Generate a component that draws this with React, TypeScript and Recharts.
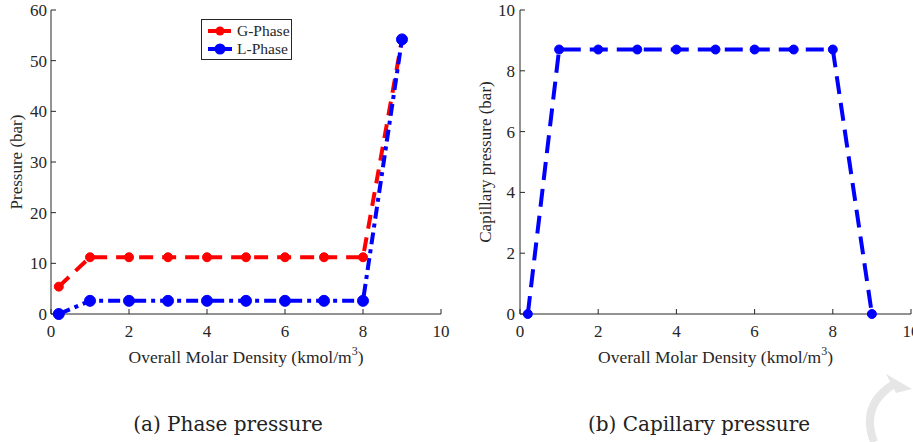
import React from 'react';
import { LineChart, Line, XAxis, YAxis, Legend, Label } from 'recharts';

const densities = [0.2, 1, 2, 3, 4, 5, 6, 7, 8, 9];
const gPhase = [5.4, 11.2, 11.2, 11.2, 11.2, 11.2, 11.2, 11.2, 11.2, 54.2];
const lPhase = [0, 2.6, 2.6, 2.6, 2.6, 2.6, 2.6, 2.6, 2.6, 54.2];
const capillary = [0, 8.7, 8.7, 8.7, 8.7, 8.7, 8.7, 8.7, 8.7, 0];
const xTicks = [0, 2, 4, 6, 8, 10];
const pTicks = [0, 10, 20, 30, 40, 50, 60];
const cTicks = [0, 2, 4, 6, 8, 10];

const phaseData = densities.map((x, i) => ({ x, g: gPhase[i], l: lPhase[i] }));
const capData = densities.map((x, i) => ({ x, c: capillary[i] }));

const AX = '#262626';
const FONT = '"Liberation Serif", "Times New Roman", serif';
const tickStyle = { fill: AX, fontSize: 17, fontFamily: FONT };
const blank = () => '';

const XLabel = (props: any) => {
  const vb = props.viewBox;
  return (
    <text x={vb.x + vb.width / 2} y={vb.y + 49} textAnchor="middle" fill={AX} fontSize={17.5} fontFamily={FONT}>
      Overall Molar Density (kmol/m<tspan dy={-8} fontSize={12}>3</tspan><tspan dy={8}>)</tspan>
    </text>
  );
};

const YLabel = (text: string, xc: number) => (props: any) => {
  const vb = props.viewBox;
  const cy = vb.y + vb.height / 2;
  return (
    <text x={xc} y={cy} transform={`rotate(-90 ${xc} ${cy})`} textAnchor="middle" dominantBaseline="central" fill={AX} fontSize={17} fontFamily={FONT}>
      {text}
    </text>
  );
};

const LegendBox = () => {
  const items = [
    { name: 'G-Phase', color: '#ff0000', dash: '10 3', r: 4.5 },
    { name: 'L-Phase', color: '#0000ff', dash: '8 3 3 3', r: 5.5 },
  ];
  return (
    <div style={{ border: `1px solid ${AX}`, background: '#fff', width: 91, height: 41, padding: '2px 0 0 0', boxSizing: 'border-box' }}>
      {items.map((it) => (
        <div key={it.name} style={{ display: 'flex', alignItems: 'center', height: 18 }}>
          <svg width={31} height={16} style={{ marginLeft: 4, flex: 'none' }}>
            <line x1={2} y1={8} x2={26} y2={8} stroke={it.color} strokeWidth={4} strokeDasharray={it.dash} />
            <circle cx={14} cy={8} r={it.r} fill={it.color} />
          </svg>
          <span style={{ fontFamily: FONT, fontSize: 15.5, color: AX, whiteSpace: 'nowrap' }}>{it.name}</span>
        </div>
      ))}
    </div>
  );
};

export default function App() {
  return (
    <div style={{ position: 'absolute', left: 0, top: 0, width: 913, height: 442, background: '#fff', overflow: 'hidden' }}>
      <div style={{ position: 'absolute', left: 0, top: 0 }}>
        <LineChart width={460} height={370} data={phaseData} margin={{ top: 10, right: 19, bottom: 0, left: 0 }}>
          <XAxis xAxisId="b" dataKey="x" type="number" domain={[0, 10]} ticks={xTicks} orientation="bottom" height={56}
            tickSize={-5} tickMargin={16} stroke={AX} tick={tickStyle} interval={0}>
            <Label content={XLabel} />
          </XAxis>
          <XAxis xAxisId="t" dataKey="x" type="number" domain={[0, 10]} ticks={xTicks} orientation="top" height={0}
            tickSize={-5} tickFormatter={blank} stroke={AX} interval={0} />
          <YAxis yAxisId="l" type="number" domain={[0, 60]} ticks={pTicks} width={51} tickSize={-5} tickMargin={9}
            stroke={AX} tick={tickStyle} interval={0}>
            <Label content={YLabel('Pressure (bar)', 16)} />
          </YAxis>
          <YAxis yAxisId="r" orientation="right" type="number" domain={[0, 60]} ticks={pTicks} width={0} tickSize={-5}
            tickFormatter={blank} stroke={AX} interval={0} />
          <Legend content={LegendBox} verticalAlign="top"
            wrapperStyle={{ position: 'absolute', left: 201, top: 19, width: 91, height: 0, overflow: 'visible' }} />
          <Line xAxisId="b" yAxisId="l" dataKey="g" name="G-Phase" stroke="#ff0000" strokeWidth={4} strokeDasharray="14 9"
            dot={{ r: 4.5, fill: '#ff0000', stroke: '#ff0000', strokeWidth: 1, strokeDasharray: '' }} isAnimationActive={false} />
          <Line xAxisId="b" yAxisId="l" dataKey="l" name="L-Phase" stroke="#0000ff" strokeWidth={4} strokeDasharray="12 5 4 5"
            dot={{ r: 5.5, fill: '#0000ff', stroke: '#0000ff', strokeWidth: 1, strokeDasharray: '' }} isAnimationActive={false} />
        </LineChart>
      </div>
      <div style={{ position: 'absolute', left: 460, top: 0 }}>
        <LineChart width={453} height={370} data={capData} margin={{ top: 10, right: 2, bottom: 0, left: 0 }}>
          <XAxis xAxisId="b" dataKey="x" type="number" domain={[0, 10]} ticks={xTicks} orientation="bottom" height={56}
            tickSize={-5} tickMargin={16} stroke={AX} tick={tickStyle} interval={0}>
            <Label content={XLabel} />
          </XAxis>
          <XAxis xAxisId="t" dataKey="x" type="number" domain={[0, 10]} ticks={xTicks} orientation="top" height={0}
            tickSize={-5} tickFormatter={blank} stroke={AX} interval={0} />
          <YAxis yAxisId="l" type="number" domain={[0, 10]} ticks={cTicks} width={60} tickSize={-5} tickMargin={10}
            stroke={AX} tick={tickStyle} interval={0}>
            <Label content={YLabel('Capillary pressure (bar)', 25)} />
          </YAxis>
          <YAxis yAxisId="r" orientation="right" type="number" domain={[0, 10]} ticks={cTicks} width={0} tickSize={-5}
            tickFormatter={blank} stroke={AX} interval={0} />
          <Line xAxisId="b" yAxisId="l" dataKey="c" name="Capillary" stroke="#0000ff" strokeWidth={4} strokeDasharray="18 9"
            dot={{ r: 4.5, fill: '#0000ff', stroke: '#0000ff', strokeWidth: 1, strokeDasharray: '' }} isAnimationActive={false} />
        </LineChart>
      </div>
      <div style={{ position: 'absolute', left: 0, width: 456, top: 412, textAlign: 'center', fontFamily: '"DejaVu Serif", serif', fontSize: 20, color: '#222' }}>
        (a) Phase pressure
      </div>
      <div style={{ position: 'absolute', left: 470, width: 458, top: 412, textAlign: 'center', fontFamily: '"DejaVu Serif", serif', fontSize: 20, color: '#222' }}>
        (b) Capillary pressure
      </div>
      <svg width={913} height={442} style={{ position: 'absolute', left: 0, top: 0, pointerEvents: 'none' }}>
        <path d="M 894 384 Q 860 405 874 442" fill="none" stroke="#e6e6e6" strokeWidth={8} />
        <path d="M 886 374 L 912 389 L 896 393 Z" fill="#e6e6e6" />
      </svg>
    </div>
  );
}
